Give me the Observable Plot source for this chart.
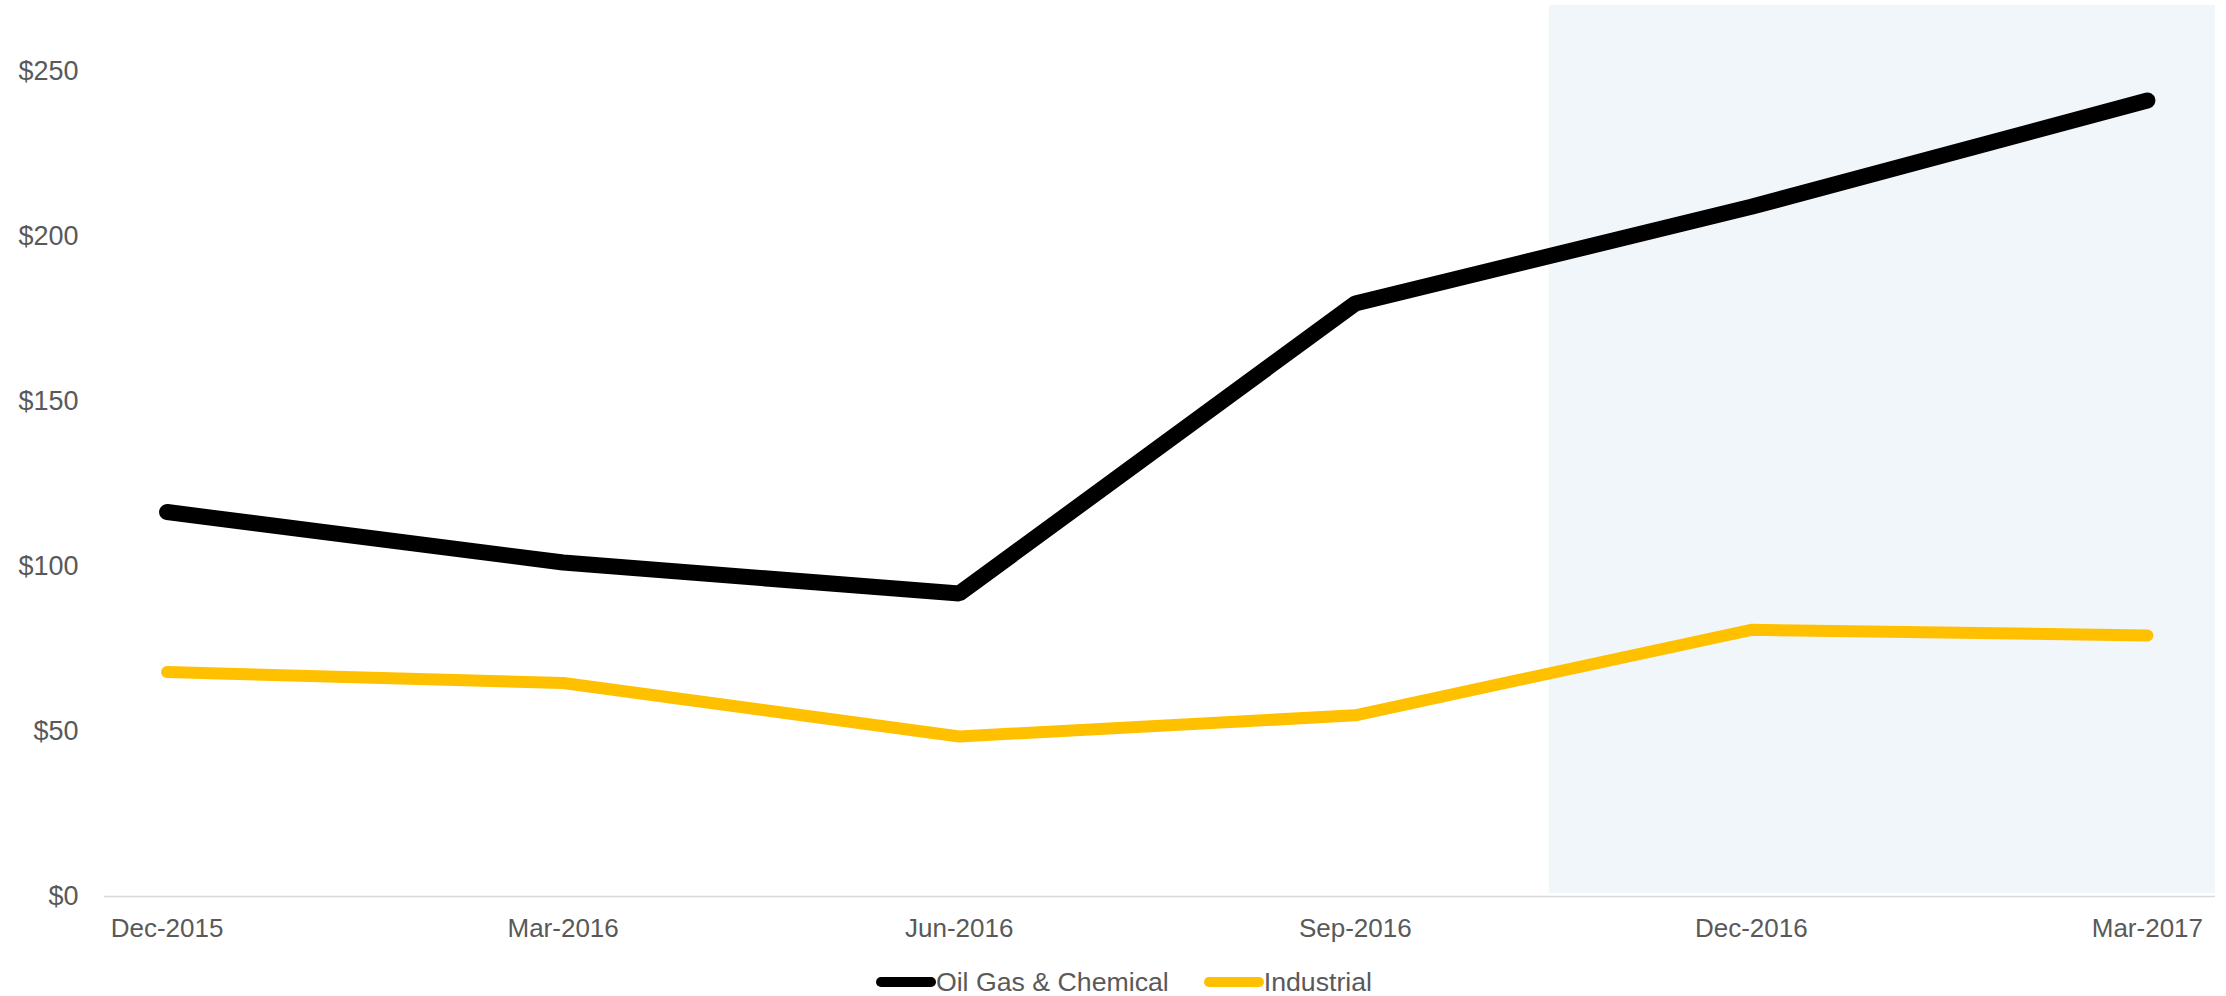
<!DOCTYPE html>
<html>
<head>
<meta charset="utf-8">
<script src="https://cdn.jsdelivr.net/npm/d3@7"></script>
<script src="https://cdn.jsdelivr.net/npm/@observablehq/plot@0.6"></script>
<style>
  html, body { margin: 0; padding: 0; background: #ffffff; }
  #chart { width: 2226px; }
  .legend { display: flex; justify-content: center; align-items: center; height: 46px; padding-left: 22px; box-sizing: border-box; padding-top: 18px;
    font-family: "Liberation Sans", Arial, sans-serif; font-size: 26.7px; color: #595959; }
  .legend .item { display: flex; align-items: center; margin-right: 35px; }
  .legend .item:last-child { margin-right: 0; }
  .legend svg { display: block; }
</style>
</head>
<body>
<div id="chart"></div>
<script>
// ---- data ----
const quarters = ["Dec-2015", "Mar-2016", "Jun-2016", "Sep-2016", "Dec-2016", "Mar-2017"];
const oilGasChemical = [116.5, 101.2, 91.8, 179.7, 209.0, 241.2];
const industrial = [68.0, 64.7, 48.5, 54.9, 80.8, 79.1];
const seriesNames = ["Oil Gas & Chemical", "Industrial"];
const seriesColors = ["#000000", "#FFC000"];
const seriesWidths = [16, 12];
const yTicks = [0, 50, 100, 150, 200, 250];
const yMax = 270;
const shadedFrom = "Dec-2016";

// ---- build table ----
const seriesValues = [oilGasChemical, industrial];
const rows = [];
seriesNames.forEach((name, s) => {
  quarters.forEach((q, i) => rows.push({series: name, q, i, value: seriesValues[s][i]}));
});
const xDomain = [-0.158, quarters.length - 1 + 0.172];
const shade = [{x1: quarters.indexOf(shadedFrom) - 0.51, x2: xDomain[1], y1: 0, y2: yMax}];

const chart = Plot.plot({
  width: 2226,
  height: 950,
  marginLeft: 104,
  marginRight: 11,
  marginTop: 5,
  marginBottom: 54,
  style: {fontFamily: "Liberation Sans, Arial, sans-serif", fontSize: "27px", color: "#595959", background: "#ffffff"},
  x: {type: "linear", domain: xDomain},
  y: {domain: [0, yMax]},
  marks: [
    Plot.rect(shade, {x1: "x1", x2: "x2", y1: "y1", y2: "y2", fill: "#F1F6FA", insetBottom: 3}),
    Plot.ruleY([0], {stroke: "#D9D9D9", strokeWidth: 1.5}),
    Plot.axisY({ticks: yTicks, tickSize: 0, tickPadding: 26, tickFormat: d => "$" + d, fill: "#595959"}),
    Plot.axisX({ticks: d3.range(quarters.length), tickSize: 0, tickPadding: 22, tickFormat: i => quarters[i], fill: "#595959", fontSize: 26}),
    ...seriesNames.map((name, s) =>
      Plot.line(rows.filter(r => r.series === name), {
        x: "i", y: "value", stroke: seriesColors[s], strokeWidth: seriesWidths[s],
        strokeLinejoin: "miter", strokeLinecap: "round"
      })
    )
  ]
});
const root = document.getElementById("chart");
root.appendChild(chart);

// legend
const legend = document.createElement("div");
legend.className = "legend";
seriesNames.forEach((name, s) => {
  const item = document.createElement("div");
  item.className = "item";
  const sw = d3.create("svg").attr("width", 60).attr("height", 12);
  sw.append("line").attr("x1", 5).attr("x2", 55).attr("y1", 6).attr("y2", 6)
    .attr("stroke", seriesColors[s]).attr("stroke-width", 10).attr("stroke-linecap", "round");
  item.appendChild(sw.node());
  const t = document.createElement("span");
  t.textContent = name;
  item.appendChild(t);
  legend.appendChild(item);
});
root.appendChild(legend);
</script>
</body>
</html>
